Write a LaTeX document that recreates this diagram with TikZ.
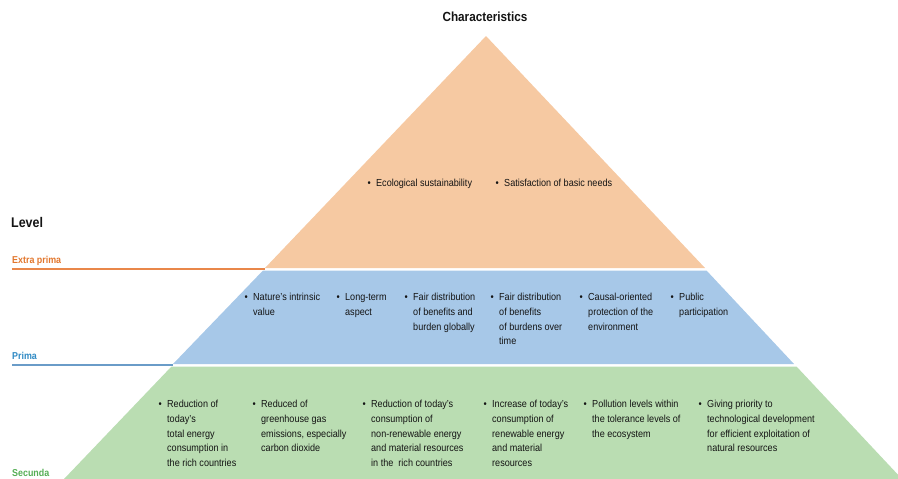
\documentclass[tikz,border=0pt]{standalone}
\usepackage{fontspec}
\setmainfont{Liberation Sans}[FakeStretch=0.89]
\definecolor{orangeband}{HTML}{F6C9A2}
\definecolor{blueband}{HTML}{A7C8E8}
\definecolor{greenband}{HTML}{BADDB2}
\definecolor{orangetxt}{HTML}{E2762C}
\definecolor{bluetxt}{HTML}{2F8AC4}
\definecolor{greentxt}{HTML}{55AE55}
\definecolor{orangeline}{HTML}{E9874A}
\definecolor{blueline}{HTML}{6A9CC8}
\newcommand{\bul}{\llap{\textbullet\hspace{5.5pt}}}
\begin{document}
\begin{tikzpicture}[x=1pt,y=-1pt,
  item/.style={anchor=north west, inner sep=0pt, align=left, text=black!92,
    font=\fontsize{10.2}{14.8}\selectfont},
  heading/.style={inner sep=0pt, font=\fontsize{13.2}{15}\selectfont\bfseries, text=black!92},
  levellabel/.style={anchor=west, inner sep=0pt, font=\fontsize{10}{12}\selectfont\bfseries},
  levelline/.style={line width=1.5pt}]
\clip (0,0) rectangle (898,479);
% bands
\fill[orangeband] (486,36) -- (705,268) -- (265,268) -- cycle;
\fill[blueband] (263,270.5) -- (706.5,270.5) -- (794,364) -- (173,364) -- cycle;
\fill[greenband] (171.5,366.5) -- (796.5,366.5) -- (902,479) -- (64,479) -- cycle;
% headings
\node[heading] (char) at (485,17) {Characteristics};
\node[heading, anchor=west, font=\fontsize{14}{16}\selectfont\bfseries] (level) at (11,222) {Level};
% level labels and lines
\node[levellabel, text=orangetxt] (extra) at (12,261) {Extra prima};
\node[levellabel, text=bluetxt] (prima) at (12,356) {Prima};
\node[levellabel, text=greentxt] (secunda) at (12,473) {Secunda};
\coordinate (eL) at (12,269);
\coordinate (eR) at (265,269);
\coordinate (pL) at (12,365);
\coordinate (pR) at (173,365);
\draw[levelline, orangeline] (eL) -- (eR);
\draw[levelline, blueline] (pL) -- (pR);
% extra prima items
\node[item] (o1) at (376,179) {\bul Ecological sustainability};
\node[item] (o2) at (504,179) {\bul Satisfaction of basic needs};
% prima items
\node[item] (b1) at (253,293) {\bul Nature's intrinsic\\value};
\node[item] (b2) at (345,293) {\bul Long-term\\aspect};
\node[item] (b3) at (413,293) {\bul Fair distribution\\of benefits and\\burden globally};
\node[item] (b4) at (499,293) {\bul Fair distribution\\of benefits\\of burdens over\\time};
\node[item] (b5) at (588,293) {\bul Causal-oriented\\protection of the\\environment};
\node[item] (b6) at (679,293) {\bul Public\\participation};
% secunda items
\node[item] (g1) at (167,400) {\bul Reduction of\\today's\\total energy\\consumption in\\the rich countries};
\node[item] (g2) at (261,400) {\bul Reduced of\\greenhouse gas\\emissions, especially\\carbon dioxide};
\node[item] (g3) at (371,400) {\bul Reduction of today's\\consumption of\\non-renewable energy\\and material resources\\in the\ \ rich countries};
\node[item] (g4) at (492,400) {\bul Increase of today's\\consumption of\\renewable energy\\and material\\resources};
\node[item] (g5) at (592,400) {\bul Pollution levels within\\the tolerance levels of\\the ecosystem};
\node[item] (g6) at (707,400) {\bul Giving priority to\\technological development\\for efficient exploitation of\\natural resources};
\end{tikzpicture}
\end{document}
